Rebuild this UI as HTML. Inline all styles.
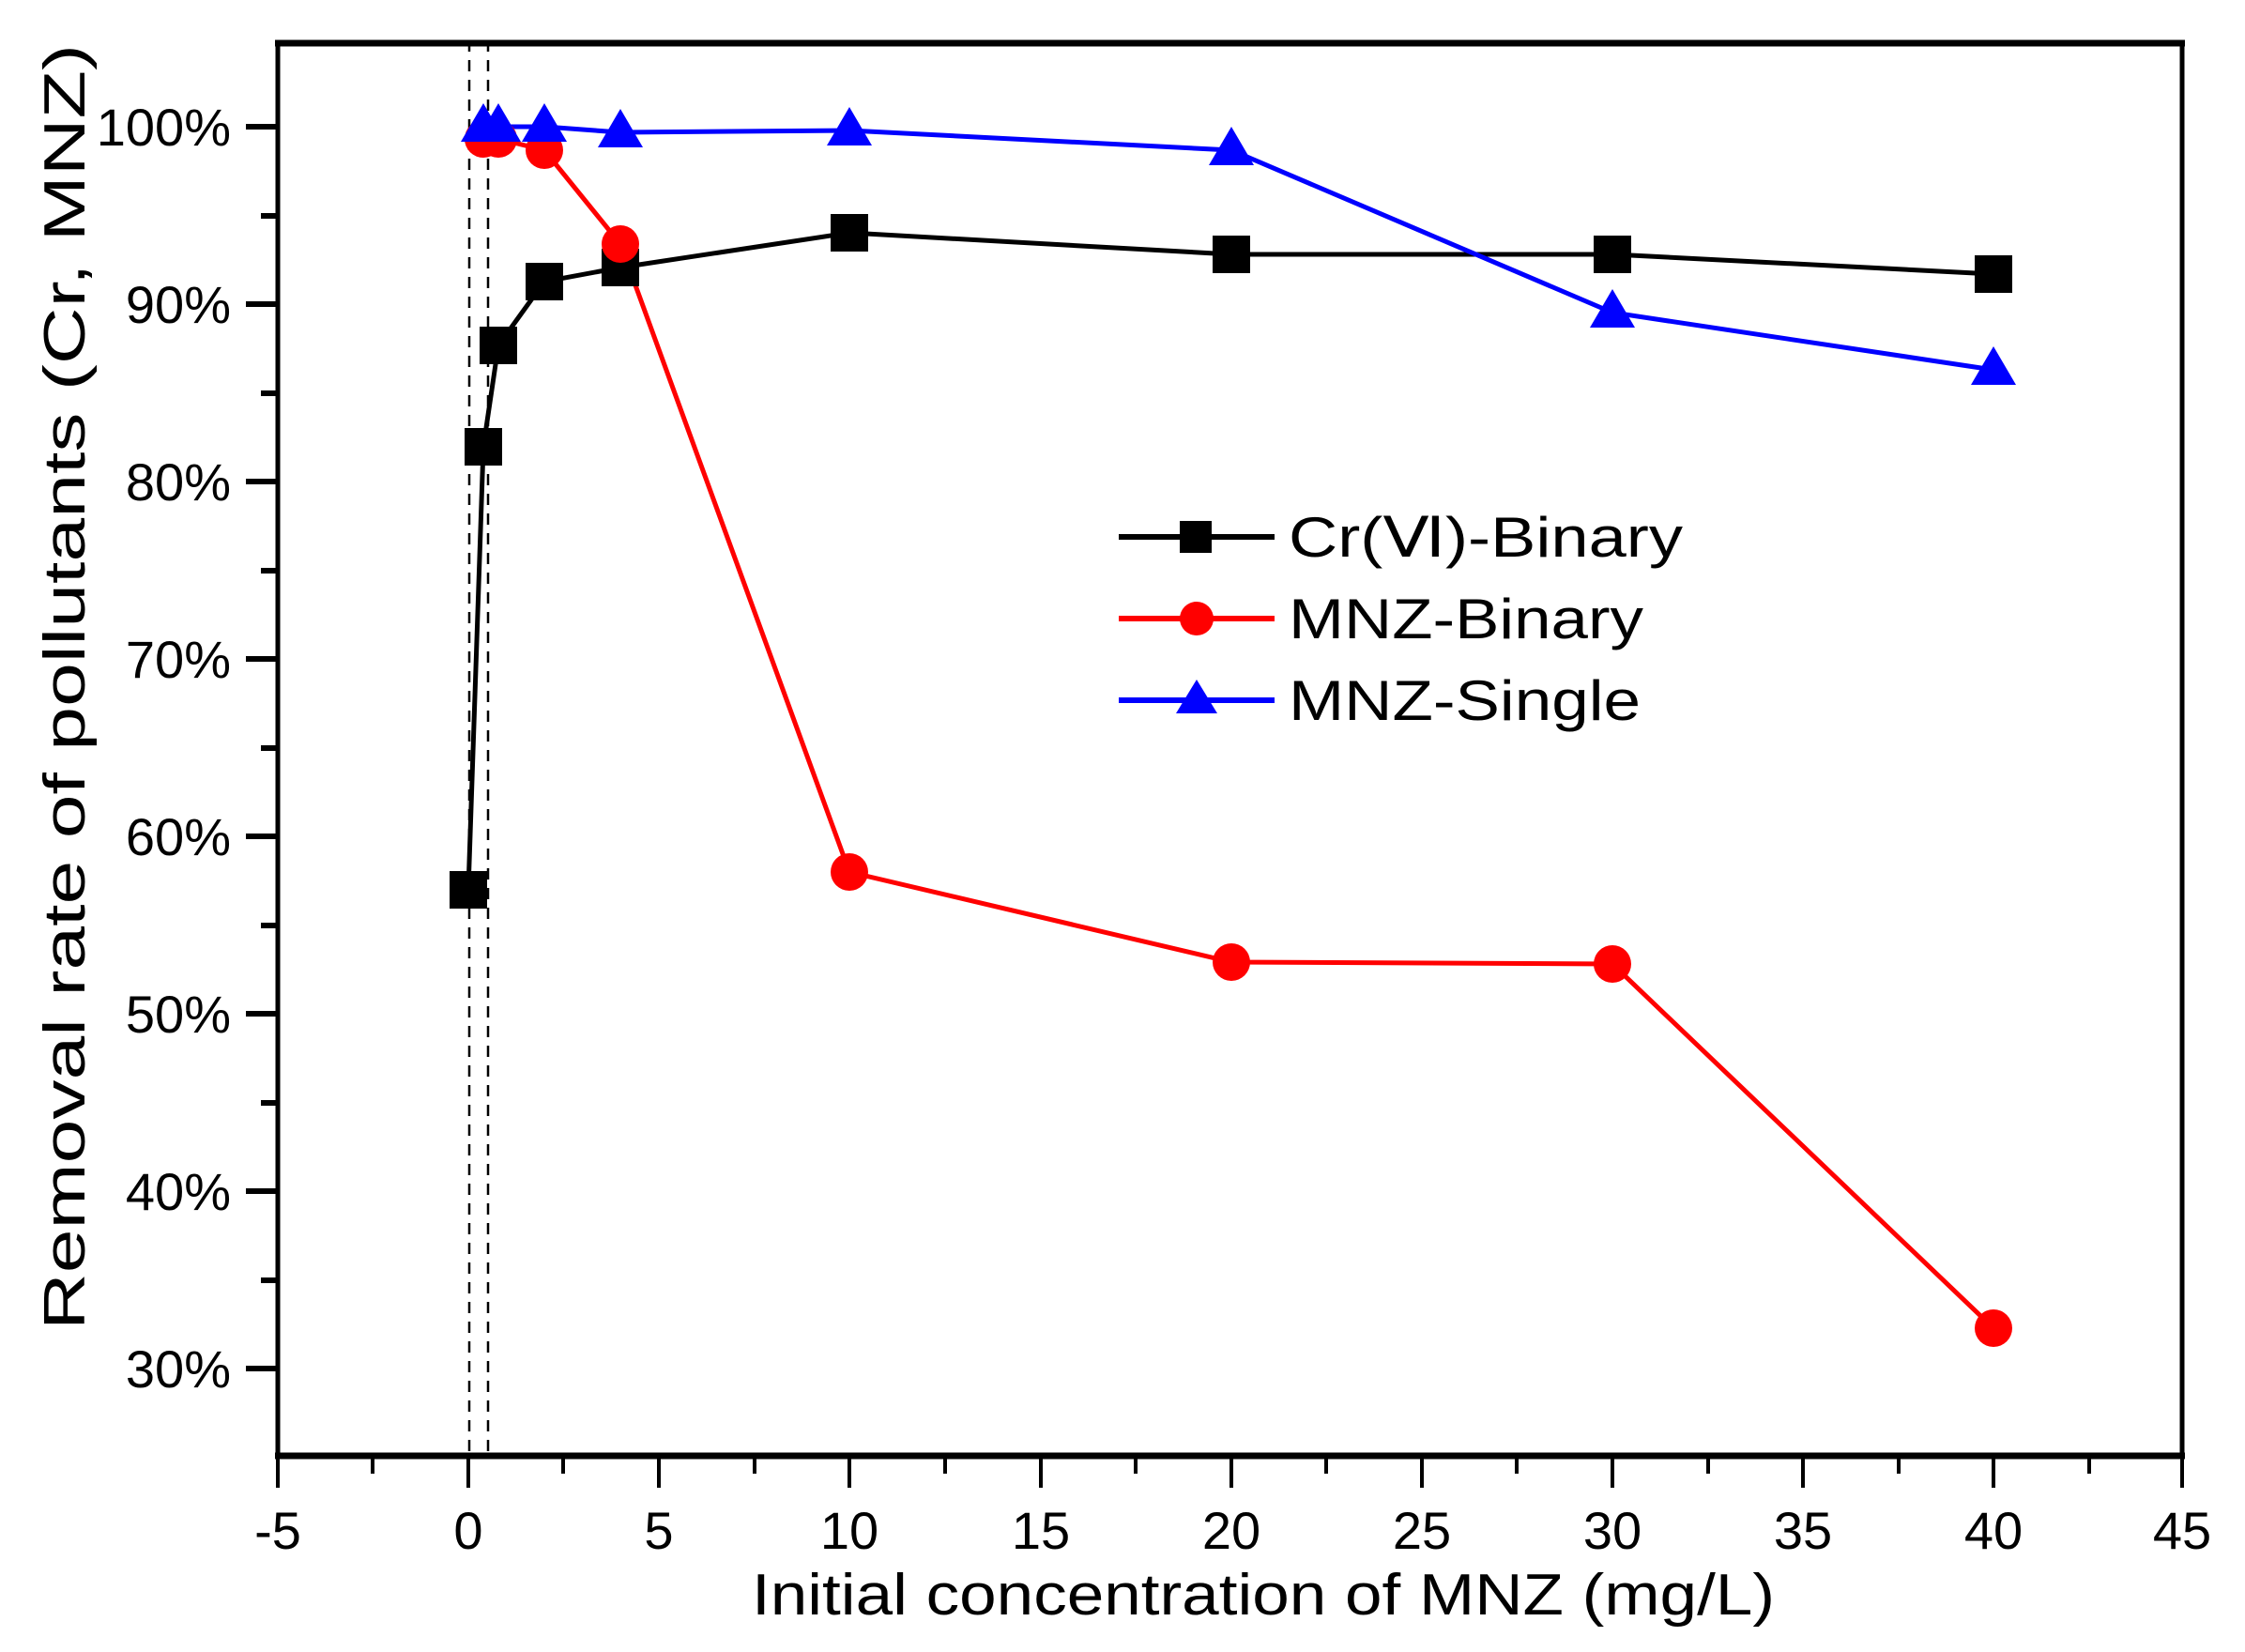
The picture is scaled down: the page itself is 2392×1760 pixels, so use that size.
<!DOCTYPE html>
<html><head><meta charset="utf-8"><style>html,body{margin:0;padding:0;background:#fff}svg{display:block}</style></head>
<body>
<svg width="2392" height="1760" viewBox="0 0 2392 1760" xmlns="http://www.w3.org/2000/svg" font-family="Liberation Sans, sans-serif">
<rect width="2392" height="1760" fill="#fff"/>
<line x1="500" y1="43" x2="500" y2="1553" stroke="#000" stroke-width="2.5" stroke-dasharray="12,9"/>
<line x1="520" y1="43" x2="520" y2="1553" stroke="#000" stroke-width="2.5" stroke-dasharray="12,9"/>
<rect x="296" y="46" width="2029" height="1505" fill="none" stroke="#000" stroke-width="5"/>
<line x1="293" y1="1551" x2="2328" y2="1551" stroke="#000" stroke-width="7"/>
<line x1="293" y1="46" x2="2328" y2="46" stroke="#000" stroke-width="7"/>
<g stroke="#000" stroke-width="6">
<line x1="262" y1="135" x2="296" y2="135"/><line x1="262" y1="324" x2="296" y2="324"/><line x1="262" y1="513" x2="296" y2="513"/><line x1="262" y1="702" x2="296" y2="702"/><line x1="262" y1="891" x2="296" y2="891"/><line x1="262" y1="1080" x2="296" y2="1080"/><line x1="262" y1="1269" x2="296" y2="1269"/><line x1="262" y1="1458" x2="296" y2="1458"/>
<line x1="278" y1="230" x2="296" y2="230"/><line x1="278" y1="419" x2="296" y2="419"/><line x1="278" y1="608" x2="296" y2="608"/><line x1="278" y1="797" x2="296" y2="797"/><line x1="278" y1="986" x2="296" y2="986"/><line x1="278" y1="1175" x2="296" y2="1175"/><line x1="278" y1="1364" x2="296" y2="1364"/>
</g>
<g stroke="#000" stroke-width="4">
<line x1="296" y1="1551" x2="296" y2="1585"/><line x1="499" y1="1551" x2="499" y2="1585"/><line x1="702" y1="1551" x2="702" y2="1585"/><line x1="905" y1="1551" x2="905" y2="1585"/><line x1="1109" y1="1551" x2="1109" y2="1585"/><line x1="1312" y1="1551" x2="1312" y2="1585"/><line x1="1515" y1="1551" x2="1515" y2="1585"/><line x1="1718" y1="1551" x2="1718" y2="1585"/><line x1="1921" y1="1551" x2="1921" y2="1585"/><line x1="2124" y1="1551" x2="2124" y2="1585"/><line x1="2325" y1="1551" x2="2325" y2="1585"/>
<line x1="397" y1="1551" x2="397" y2="1570"/><line x1="600" y1="1551" x2="600" y2="1570"/><line x1="804" y1="1551" x2="804" y2="1570"/><line x1="1007" y1="1551" x2="1007" y2="1570"/><line x1="1210" y1="1551" x2="1210" y2="1570"/><line x1="1413" y1="1551" x2="1413" y2="1570"/><line x1="1616" y1="1551" x2="1616" y2="1570"/><line x1="1820" y1="1551" x2="1820" y2="1570"/><line x1="2023" y1="1551" x2="2023" y2="1570"/><line x1="2226" y1="1551" x2="2226" y2="1570"/>
</g>
<g font-size="56" text-anchor="end" fill="#000">
<text x="246" y="155">100%</text><text x="246" y="344">90%</text><text x="246" y="533">80%</text><text x="246" y="722">70%</text><text x="246" y="911">60%</text><text x="246" y="1100">50%</text><text x="246" y="1289">40%</text><text x="246" y="1478">30%</text>
</g>
<g font-size="56" text-anchor="middle" fill="#000">
<text x="296" y="1650">-5</text><text x="499" y="1650">0</text><text x="702" y="1650">5</text><text x="905" y="1650">10</text><text x="1109" y="1650">15</text><text x="1312" y="1650">20</text><text x="1515" y="1650">25</text><text x="1718" y="1650">30</text><text x="1921" y="1650">35</text><text x="2124" y="1650">40</text><text x="2325" y="1650">45</text>
</g>
<text x="1346" y="1720" font-size="62" text-anchor="middle" textLength="1090" lengthAdjust="spacingAndGlyphs">Initial concentration of MNZ (mg/L)</text>
<text transform="translate(90,732) rotate(-90)" font-size="62" text-anchor="middle" textLength="1370" lengthAdjust="spacingAndGlyphs">Removal rate of pollutants (Cr, MNZ)</text>
<polyline fill="none" stroke="#000" stroke-width="5" points="499,948 515,476 531,368 580,300 661,285 905,248 1312,271 1718,271 2124,292"/>
<polyline fill="none" stroke="#f00" stroke-width="5" points="515,148 531,148 580,160 661,260 905,929 1312,1025 1718,1027 2124,1415"/>
<polyline fill="none" stroke="#00f" stroke-width="5" points="515,135 531,135 580,135 661,141 905,139 1312,160 1718,333 2124,394"/>
<g fill="#000">
<rect x="479" y="928" width="40" height="40"/>
<rect x="495" y="456" width="40" height="40"/><rect x="511" y="348" width="40" height="40"/><rect x="560" y="280" width="40" height="40"/><rect x="641" y="265" width="40" height="40"/><rect x="885" y="228" width="40" height="40"/><rect x="1292" y="251" width="40" height="40"/><rect x="1698" y="251" width="40" height="40"/><rect x="2104" y="272" width="40" height="40"/>
</g>
<g fill="#f00">
<circle cx="515" cy="148" r="20"/><circle cx="531" cy="148" r="20"/><circle cx="580" cy="160" r="20"/><circle cx="661" cy="260" r="20"/><circle cx="905" cy="929" r="20"/><circle cx="1312" cy="1025" r="20"/><circle cx="1718" cy="1027" r="20"/><circle cx="2124" cy="1415" r="20"/>
</g>
<g fill="#00f">
<polygon points="515,110 491,151 539,151"/><polygon points="531,110 507,151 555,151"/><polygon points="580,110 556,151 604,151"/><polygon points="661,116 637,157 685,157"/><polygon points="905,114 881,155 929,155"/><polygon points="1312,135 1288,176 1336,176"/><polygon points="1718,308 1694,349 1742,349"/><polygon points="2124,369 2100,410 2148,410"/>
</g>
<line x1="1192" y1="572" x2="1358" y2="572" stroke="#000" stroke-width="6"/>
<rect x="1257" y="555" width="34" height="34" fill="#000"/>
<line x1="1192" y1="659" x2="1358" y2="659" stroke="#f00" stroke-width="6"/>
<circle cx="1275" cy="659" r="18" fill="#f00"/>
<line x1="1192" y1="746" x2="1358" y2="746" stroke="#00f" stroke-width="6"/>
<polygon points="1275,724 1253,760 1297,760" fill="#00f"/>
<g font-size="60" fill="#000">
<text x="1373" y="593" textLength="420" lengthAdjust="spacingAndGlyphs">Cr(Ⅵ)-Binary</text>
<text x="1373" y="680" textLength="378" lengthAdjust="spacingAndGlyphs">MNZ-Binary</text>
<text x="1373" y="767" textLength="375" lengthAdjust="spacingAndGlyphs">MNZ-Single</text>
</g>
</svg>
</body></html>
